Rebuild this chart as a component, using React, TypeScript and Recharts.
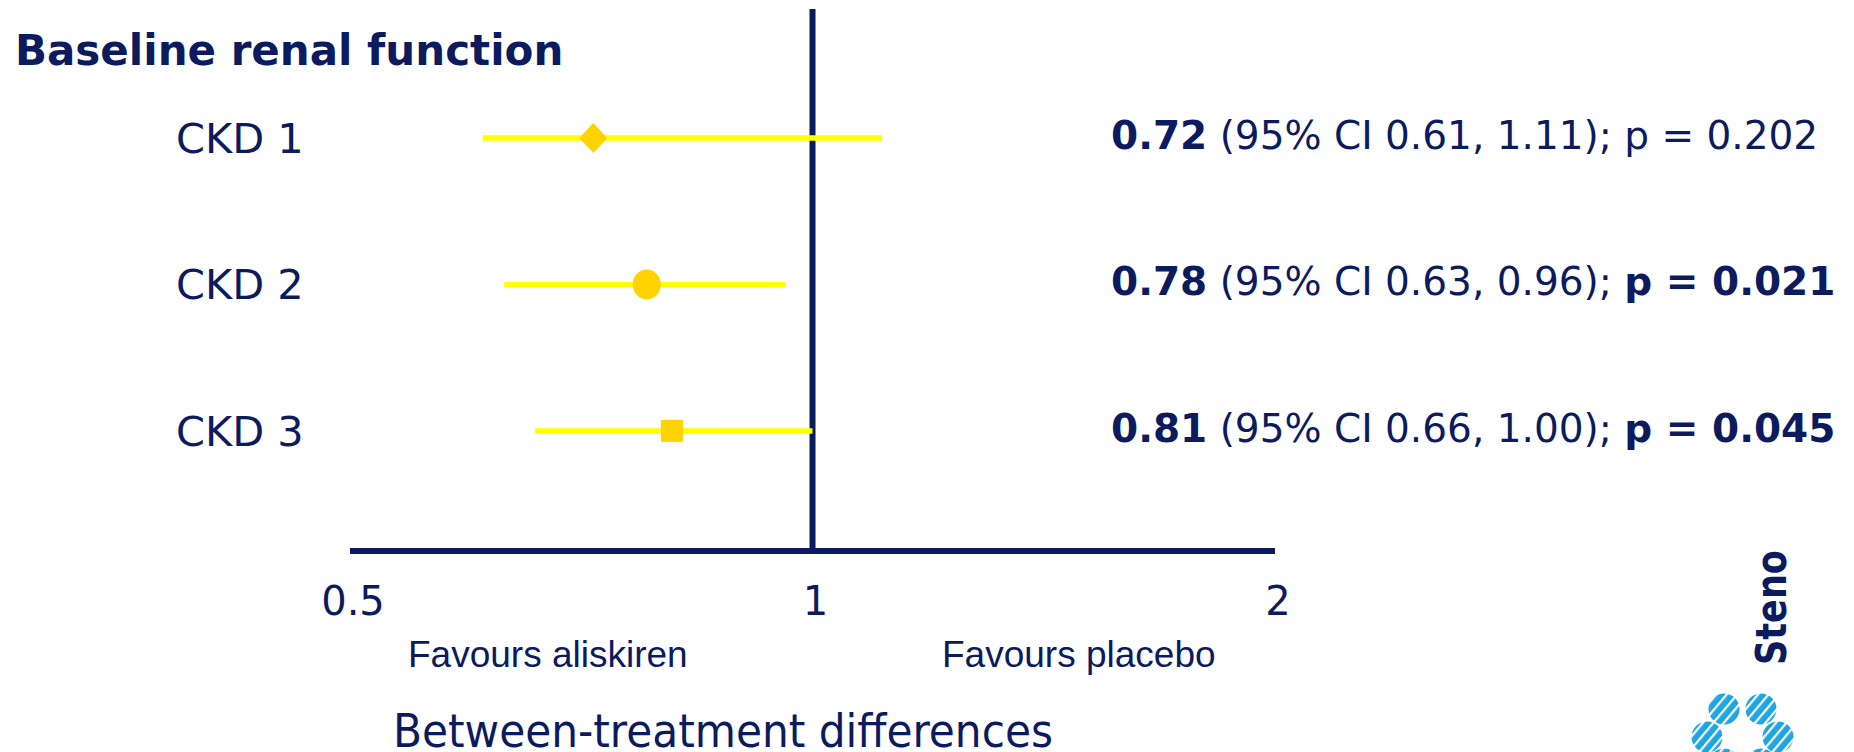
import React from 'react';
import { ComposedChart, Scatter, XAxis, YAxis, ReferenceLine, Customized } from 'recharts';

const categories = ['CKD 1', 'CKD 2', 'CKD 3'];
const rowIndex = [1, 2, 3];
const estimates = [0.72, 0.78, 0.81];
const ciLower = [0.61, 0.63, 0.66];
const ciUpper = [1.11, 0.96, 1.0];
const pValues = ['0.202', '0.021', '0.045'];
const pSignificant = [false, true, true];
const markerShapes = ['diamond', 'circle', 'square'];
const xTicks = [0.5, 1, 2];
const xTickLabels = ['0.5', '1', '2'];

const NAVY = '#0b1b5e';
const YELLOW = '#ffff00';
const GOLD = '#ffd200';
const LOGO_BLUE = '#1ea6e3';
const FONT = '"DejaVu Sans", Verdana, sans-serif';

const pointData = rowIndex.map((r, i) => ({ x: estimates[i], y: r, shape: markerShapes[i] }));
const ciData = rowIndex.map((r, i) => [
  { x: ciLower[i], y: r },
  { x: ciUpper[i], y: r },
]);

const fmt = (v: number) => v.toFixed(2);

const Marker = (props: any) => {
  const { cx, cy, payload } = props;
  if (cx == null || cy == null) return <g />;
  const kind = payload.shape;
  if (kind === 'diamond') {
    return <polygon points={`${cx},${cy - 15} ${cx + 14},${cy} ${cx},${cy + 15} ${cx - 14},${cy}`} fill={GOLD} />;
  }
  if (kind === 'circle') {
    return <ellipse cx={cx} cy={cy} rx={14} ry={15} fill={GOLD} />;
  }
  return <rect x={cx - 11} y={cy - 11} width={22} height={22} fill={GOLD} />;
};

const NoShape = () => <g />;

const RowTick = (props: any) => {
  const { y, payload } = props;
  const i = rowIndex.indexOf(payload.value);
  if (i < 0) return <g />;
  return (
    <g>
      <text x={176} y={y + 15} fontSize={41.5} fill={NAVY} fontFamily={FONT}>
        {categories[i]}
      </text>
      <text x={1111} y={y + 11} fontSize={39} fill={NAVY} fontFamily={FONT}>
        <tspan fontWeight="bold">{fmt(estimates[i])}</tspan>
        <tspan>{` (95% CI ${fmt(ciLower[i])}, ${fmt(ciUpper[i])}); `}</tspan>
        <tspan fontWeight={pSignificant[i] ? 'bold' : 'normal'}>{`p = ${pValues[i]}`}</tspan>
      </text>
    </g>
  );
};

const XTick = (props: any) => {
  const { x, y, payload } = props;
  const i = xTicks.indexOf(payload.value);
  return (
    <text x={x + 3} y={y + 64} textAnchor="middle" fontSize={40} fill={NAVY} fontFamily={FONT}>
      {i >= 0 ? xTickLabels[i] : payload.value}
    </text>
  );
};

const stripeCircles = [
  [1724, 709],
  [1761, 709],
  [1707, 737],
  [1778, 737],
  [1724, 764],
  [1761, 764],
];

const Decorations = () => (
  <g>
    <defs>
      <pattern id="stripes" patternUnits="userSpaceOnUse" width="8" height="8" patternTransform="rotate(40)">
        <rect x="0" y="0" width="8" height="8" fill={LOGO_BLUE} />
        <rect x="0" y="0" width="2.2" height="8" fill="#ffffff" />
      </pattern>
    </defs>
    <text x={15} y={65} fontSize={42} fontWeight="bold" fill={NAVY} fontFamily={FONT}>
      Baseline renal function
    </text>
    <text x={408} y={667} fontSize={37} fill={NAVY} fontFamily='"Liberation Sans", Arial, sans-serif'>
      Favours aliskiren
    </text>
    <text x={942} y={667} fontSize={37} fill={NAVY} fontFamily='"Liberation Sans", Arial, sans-serif'>
      Favours placebo
    </text>
    <text x={393} y={747} fontSize={47} fill={NAVY} fontFamily='"DejaVu Sans Condensed", "DejaVu Sans", sans-serif'>
      Between-treatment differences
    </text>
    <text
      transform="translate(1786, 665) rotate(-90)"
      fontSize={42}
      fontWeight="bold"
      fill={NAVY}
      fontFamily='"DejaVu Sans Condensed", "DejaVu Sans", sans-serif'
      textLength={115}
      lengthAdjust="spacingAndGlyphs"
    >
      Steno
    </text>
    {stripeCircles.map(([cx, cy], k) => (
      <circle key={k} cx={cx} cy={cy} r={15.5} fill="url(#stripes)" />
    ))}
  </g>
);

export default function App() {
  return (
    <div style={{ position: 'absolute', left: 0, top: 0, width: 1854, height: 752, background: '#ffffff', overflow: 'hidden' }}>
      <ComposedChart width={1854} height={752} margin={{ top: 9, right: 579, bottom: 141, left: 0 }}>
        <XAxis
          dataKey="x"
          type="number"
          scale="log"
          domain={[0.5, 2]}
          ticks={xTicks}
          allowDataOverflow
          height={60}
          axisLine={{ stroke: NAVY, strokeWidth: 6 }}
          tickLine={false}
          tickSize={0}
          tickMargin={0}
          tick={<XTick />}
        />
        <YAxis
          dataKey="y"
          type="number"
          domain={[0.12, 3.82]}
          reversed
          ticks={rowIndex}
          allowDataOverflow
          width={350}
          axisLine={false}
          tickLine={false}
          tick={<RowTick />}
        />
        {ciData.map((d, i) => (
          <Scatter
            key={`ci-${i}`}
            data={d}
            line={{ stroke: YELLOW, strokeWidth: 5.5 }}
            lineType="joint"
            shape={<NoShape />}
            isAnimationActive={false}
            legendType="none"
          />
        ))}
        <ReferenceLine x={1} stroke={NAVY} strokeWidth={6} />
        <Scatter data={pointData} shape={<Marker />} isAnimationActive={false} legendType="none" />
        <Customized component={Decorations} />
      </ComposedChart>
    </div>
  );
}
